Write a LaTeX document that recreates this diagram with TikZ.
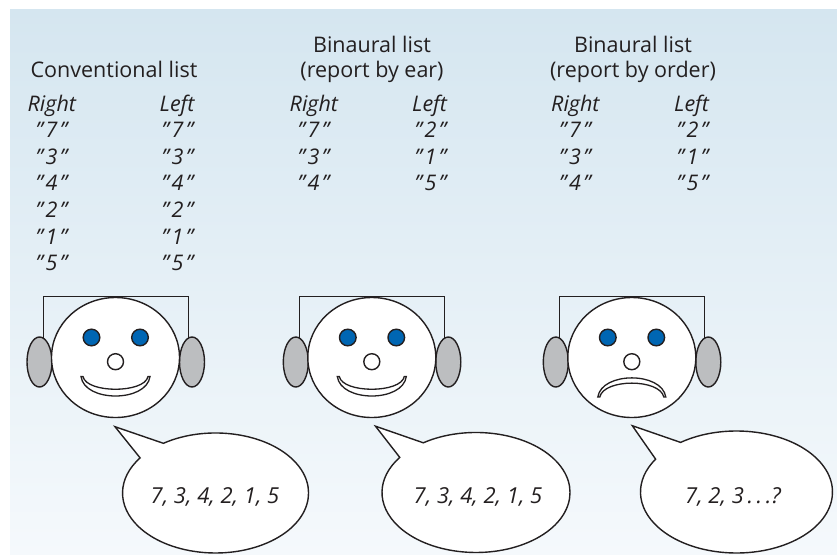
\documentclass[tikz,border=0pt]{standalone}
\usepackage{fontspec}
\setmainfont{Open Sans}
\definecolor{inkc}{HTML}{231F20}
\definecolor{earc}{HTML}{BCBEC0}
\definecolor{eyec}{HTML}{0066B3}
\definecolor{bgtop}{HTML}{D5E6F0}
\definecolor{bgbot}{HTML}{F5F9FC}
\newcommand\quoted[1]{"\kern2.5pt#1\kern2.5pt"}
\tikzset{
  outline/.style={draw=inkc, line width=1.4pt},
  band/.style={draw=inkc, line width=1.2pt},
  ear/.style={outline, fill=earc},
  skin/.style={outline, fill=white},
  eye/.style={outline, fill=eyec},
  bubble/.style={outline, fill=white, line join=miter},
  title/.style={inner sep=0pt, anchor=base, text=inkc, font=\fontsize{21.5}{25}\selectfont},
  colhead/.style={inner sep=0pt, anchor=base west, text=inkc, font=\fontsize{21.5}{25}\selectfont\itshape},
  digit/.style={inner sep=0pt, anchor=base west, text=inkc, font=\fontsize{21.5}{25}\selectfont\itshape},
  said/.style={inner sep=0pt, anchor=base, text=inkc, font=\fontsize{22}{26}\selectfont\itshape},
  % head with headphones, centred on the face
  head/.pic={
    \draw[band] (-72,-20) -- (-72,-61) -- (73,-61) -- (73,-20);
    \filldraw[ear] (-76,4.5) ellipse (12.5 and 25);
    \filldraw[ear] (76.5,4.5) ellipse (12.5 and 25);
    \filldraw[skin] (0,0) ellipse (64 and 60);
    \filldraw[eye] (-24,-20) circle (8.3);
    \filldraw[eye] (24.5,-20) circle (8.3);
    \filldraw[skin] (0,4.2) circle (8);
  },
  happy/.pic={
    \pic {head};
    \filldraw[skin, line width=1.3pt] (-34.5,19) .. controls (-31,45) and (31,45) .. (34.5,19)
      -- (32.5,19) .. controls (29,36) and (-29,36) .. (-32.5,19) -- cycle;
  },
  sad/.pic={
    \pic {head};
    \filldraw[skin, line width=1.3pt] (-34,39.5) .. controls (-30,14) and (30,14) .. (34,39.5)
      -- (32,39.5) .. controls (28,21) and (-28,21) .. (-32,39.5) -- cycle;
  },
}
\begin{document}
\begin{tikzpicture}[x=1pt,y=-1pt]
\useasboundingbox (0,0) rectangle (837,554);
\fill[white] (0,0) rectangle (837,554);
\shade[top color=bgtop, bottom color=bgbot] (10,9) rectangle (837,554);

% headings
\node[title] (h1) at (114,77) {Conventional list};
\node[title] (h2a) at (372,52) {Binaural list};
\node[title] (h2b) at (372,77) {(report by ear)};
\node[title] (h3a) at (633,52) {Binaural list};
\node[title] (h3b) at (633,77) {(report by order)};

% column heads
\node[colhead] (r1) at (27.5,111.7) {Right};
\node[colhead] (l1) at (159.5,111.7) {Left};
\node[colhead] (r2) at (289.5,111.7) {Right};
\node[colhead] (l2) at (412,111.7) {Left};
\node[colhead] (r3) at (551,111.7) {Right};
\node[colhead] (l3) at (674,111.7) {Left};

% conventional list
\foreach \d [count=\k from 0] in {7,3,4,2,1,5} {
  \node[digit] (cr\k) at (35.5,137.3+26.7*\k) {\quoted{\d}};
  \node[digit] (cl\k) at (161.5,137.3+26.7*\k) {\quoted{\d}};
}
% binaural, report by ear
\foreach \a/\b [count=\k from 0] in {7/2,3/1,4/5} {
  \node[digit] (er\k) at (297.5,137.3+26.7*\k) {\quoted{\a}};
  \node[digit] (el\k) at (414.5,137.3+26.7*\k) {\quoted{\b}};
}
% binaural, report by order
\foreach \a/\b [count=\k from 0] in {7/2,3/1,4/5} {
  \node[digit] (or\k) at (559,137.3+26.7*\k) {\quoted{\a}};
  \node[digit] (ol\k) at (676.5,137.3+26.7*\k) {\quoted{\b}};
}

% listeners
\pic (f1) at (115.5,357.5) {happy};
\pic (f2) at (371.8,357.5) {happy};
\pic (f3) at (631.8,357.5) {sad};

% speech bubbles
\coordinate (tip1) at (115,426.7);
\coordinate (tip2) at (375.5,426.2);
\coordinate (tip3) at (632.3,425.7);
\filldraw[bubble] (163.4,443.3) arc[start angle=235.9, end angle=575.8, x radius=93, y radius=60] -- (tip1) -- cycle;
\filldraw[bubble] (423.3,442.8) arc[start angle=235.9, end angle=575.8, x radius=94, y radius=60] -- (tip2) -- cycle;
\filldraw[bubble] (680.6,442.4) arc[start angle=234.4, end angle=572.6, x radius=96, y radius=61] -- (tip3) -- cycle;

\node[said] (s1) at (215,503.3) {7, 3, 4, 2, 1, 5};
\node[said] (s2) at (478,503.3) {7, 3, 4, 2, 1, 5};
\node[said] (s3) at (733,503.3) {7, 2, 3\,.\,.\,.?};
\end{tikzpicture}
\end{document}
